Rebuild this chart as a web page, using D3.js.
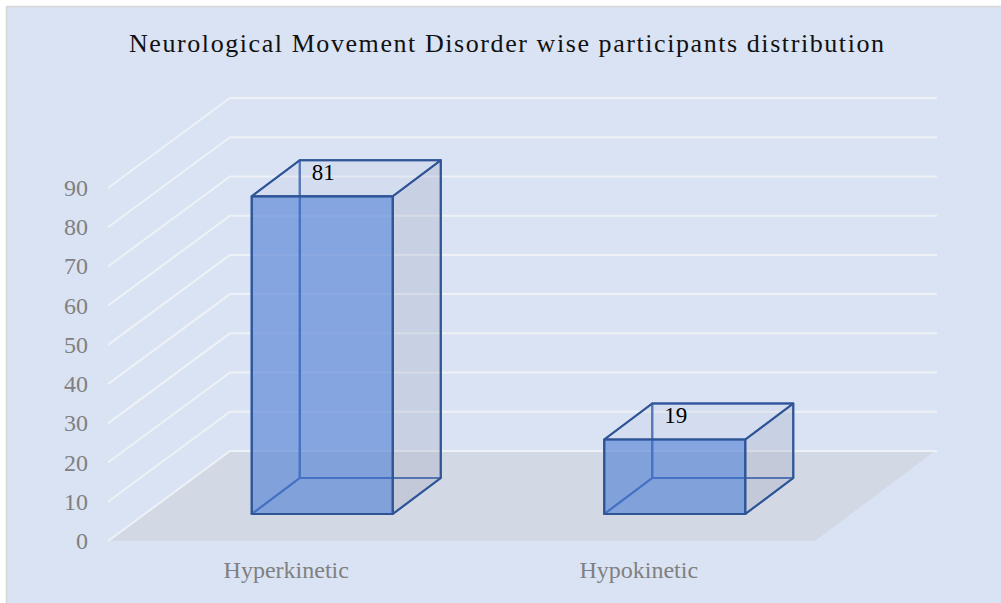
<!DOCTYPE html>
<html>
<head>
<meta charset="utf-8">
<script src="https://cdn.jsdelivr.net/npm/d3@7"></script>
<style>
  body { margin: 0; background: #ffffff; }
  svg { display: block; }
</style>
</head>
<body>
<svg id="chart" width="1001" height="603"></svg>
<script>
// **** Data
const categories = ["Hyperkinetic", "Hypokinetic"];
const values = [81, 19];
const yTickValues = [0, 10, 20, 30, 40, 50, 60, 70, 80, 90];
const title = "Neurological Movement Disorder wise participants distribution";

// **** Layout of the 3D box
const width = 1001;
const height = 603;
const origin = { x: 110, y: 541 };   // front-left corner of the floor
const floorWidth = 705;
const depth = { dx: 120, dy: -90 };  // offset from front to back wall
const barDepth = [0.3, 0.7];         // bar front / back as share of depth

const svg = d3.select("#chart");

// **** Scales
const xScale = d3
  .scaleBand()
  .domain(categories)
  .range([0, floorWidth])
  .paddingInner(0.6)
  .paddingOuter(0.3);

const yScale = d3
  .scaleLinear()
  .domain([0, 90])
  .range([0, 353]);

//Project (x along floor, value, depth share) to screen
function proj(xp, v, z) {
  return [origin.x + xp + z * depth.dx, origin.y - yScale(v) + z * depth.dy];
}
const line = pts => "M" + pts.map(p => p.join(",")).join("L") + "Z";

// **** Background
svg.append("rect")
  .attr("x", 6.5).attr("y", 6.5)
  .attr("width", width).attr("height", height)
  .attr("fill", "#dae3f3")
  .attr("stroke", "#d6d6d6")
  .attr("stroke-width", 1.5);

// **** Title
svg.append("text")
  .attr("x", 506.5)
  .attr("y", 52)
  .attr("text-anchor", "middle")
  .attr("font-family", "'Liberation Serif', 'Times New Roman', serif")
  .attr("font-size", 26)
  .attr("textLength", 755)
  .attr("lengthAdjust", "spacing")
  .attr("fill", "#111111")
  .text(title);

// **** Floor
svg.append("path")
  .attr("d", line([proj(0, 0, 0), proj(floorWidth, 0, 0), proj(floorWidth, 0, 1), proj(0, 0, 1)]))
  .attr("fill", "#d3d9e4");

// **** Gridlines (side wall diagonal + back wall)
svg.append("g")
  .selectAll("path")
  .data(yTickValues)
  .join("path")
  .attr("d", d => {
    const a = proj(-2, d, 0), b = proj(0, d, 1), c = proj(floorWidth + 2, d, 1);
    return `M${a}L${b}L${c}`;
  })
  .attr("fill", "none")
  .attr("stroke", "#eef1f6")
  .attr("stroke-width", 2);

// **** Y axis labels
svg.append("g")
  .selectAll("text")
  .data(yTickValues)
  .join("text")
  .attr("x", 88)
  .attr("y", d => proj(0, d, 0)[1] + 8)
  .attr("text-anchor", "end")
  .attr("font-family", "'Liberation Serif', 'Times New Roman', serif")
  .attr("font-size", 24)
  .attr("fill", "#808080")
  .text(d => d);

// **** Category labels
svg.append("g")
  .selectAll("text")
  .data(categories)
  .join("text")
  .attr("x", d => proj(xScale(d) + xScale.bandwidth() / 2, 0, 0)[0])
  .attr("y", 578)
  .attr("text-anchor", "middle")
  .attr("font-family", "'Liberation Serif', 'Times New Roman', serif")
  .attr("font-size", 24)
  .attr("fill", "#808080")
  .text(d => d);

// **** Bars
const bars = categories.map((c, i) => {
  const x0 = xScale(c), x1 = x0 + xScale.bandwidth();
  const [z0, z1] = barDepth;
  const v = values[i];
  return {
    value: v,
    back: [proj(x0, 0, z1), proj(x1, 0, z1), proj(x1, v, z1), proj(x0, v, z1)],
    left: [proj(x0, 0, z0), proj(x0, 0, z1), proj(x0, v, z1), proj(x0, v, z0)],
    bottom: [proj(x0, 0, z0), proj(x1, 0, z0), proj(x1, 0, z1), proj(x0, 0, z1)],
    right: [proj(x1, 0, z0), proj(x1, 0, z1), proj(x1, v, z1), proj(x1, v, z0)],
    top: [proj(x0, v, z0), proj(x1, v, z0), proj(x1, v, z1), proj(x0, v, z1)],
    front: [proj(x0, 0, z0), proj(x1, 0, z0), proj(x1, v, z0), proj(x0, v, z0)],
    label: proj(x0, v, z1)
  };
});

const barG = svg.append("g").attr("stroke-linejoin", "round");

//Hidden faces: outline only
["back", "left", "bottom"].forEach(face => {
  barG.selectAll(null)
    .data(bars)
    .join("path")
    .attr("d", d => line(d[face]))
    .attr("fill", "none")
    .attr("stroke", "#3c64ad")
    .attr("stroke-width", 2);
});

//Visible side and top faces
barG.selectAll(null)
  .data(bars)
  .join("path")
  .attr("d", d => line(d.right))
  .attr("fill", "rgba(150,160,190,0.27)")
  .attr("stroke", "#2f5597")
  .attr("stroke-width", 2);

barG.selectAll(null)
  .data(bars)
  .join("path")
  .attr("d", d => line(d.top))
  .attr("fill", "rgba(190,200,225,0.2)")
  .attr("stroke", "#2f5597")
  .attr("stroke-width", 2);

//Front face
barG.selectAll(null)
  .data(bars)
  .join("path")
  .attr("d", d => line(d.front))
  .attr("fill", "rgba(75,124,211,0.6)")
  .attr("stroke", "#2f5597")
  .attr("stroke-width", 2.2);

// **** Data labels
svg.append("g")
  .selectAll("text")
  .data(bars)
  .join("text")
  .attr("x", d => d.label[0] + 12)
  .attr("y", d => d.label[1] + 20)
  .attr("font-family", "'Liberation Serif', 'Times New Roman', serif")
  .attr("font-size", 23)
  .attr("fill", "#000000")
  .text(d => d.value);
</script>
</body>
</html>
